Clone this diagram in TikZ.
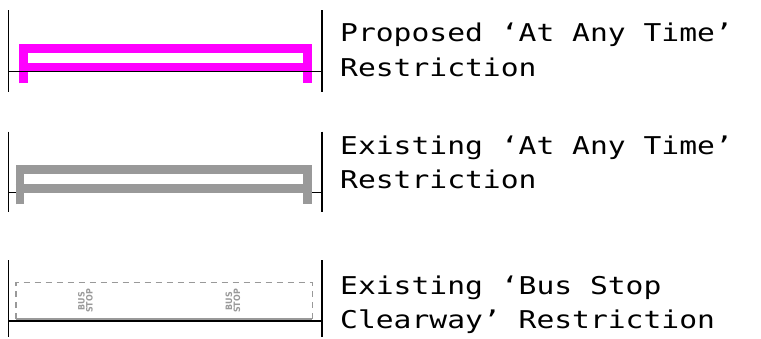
\documentclass[tikz,border=0pt]{standalone}
\usepackage{fontspec}
\setmainfont{DejaVu Sans Mono}[FakeStretch=1.21]
\newfontfamily\markfont{DejaVu Sans Condensed}
\definecolor{propmag}{RGB}{255,0,255}
\definecolor{exgray}{RGB}{153,153,153}
\begin{document}
\begin{tikzpicture}[x=1pt,y=-1pt,
  tick/.style={draw=black,line width=1.3pt},
  kerb/.style={draw=black,line width=1.3pt},
  yellowline/.style={line width=8.7pt,line join=miter,line cap=butt},
  legend/.style={anchor=base west,inner sep=0pt,font=\fontsize{24.5}{24.5}\selectfont},
  busmark/.style={rotate=90,inner sep=0pt,text=exgray,align=center,
    font=\markfont\bfseries\fontsize{8.8}{8}\selectfont}]
\useasboundingbox (0,0) rectangle (761,338);
% ---- Row 1: proposed
\draw[yellowline,draw=propmag] (23.4,83.3) -- (23.4,48.6) -- (307.6,48.6) -- (307.6,83.3);
\draw[yellowline,draw=propmag] (19,67.6) -- (312,67.6);
\draw[kerb] (8.3,71.7) -- (322,71.7);
\draw[tick] (8.3,10) -- (8.3,91.7);
\draw[tick] (322,10) -- (322,91.7);
\node[legend] (t1a) at (340,41.7) {Proposed ‘At Any Time’};
\node[legend] (t1b) at (340,76.7) {Restriction};
% ---- Row 2: existing
\draw[kerb] (8.3,192.3) -- (322,192.3);
\draw[yellowline,draw=exgray] (20,204.3) -- (20,169.5) -- (307.2,169.5) -- (307.2,204.3);
\draw[yellowline,draw=exgray] (15.7,188.5) -- (311.7,188.5);
\draw[tick] (8.3,131.7) -- (8.3,212);
\draw[tick] (322,131.7) -- (322,212);
\node[legend] (t2a) at (340,154.3) {Existing ‘At Any Time’};
\node[legend] (t2b) at (340,188.3) {Restriction};
% ---- Row 3: bus stop clearway
\draw[draw=exgray,line width=1.3pt,dash pattern=on 6pt off 5pt]
  (16,319) -- (16,282.7) -- (312.3,282.7) -- (312.3,319);
\draw[draw=exgray,line width=2pt] (16,319.3) -- (312.3,319.3);
\draw[kerb] (8.3,321) -- (322,321);
\draw[tick] (8.3,260) -- (8.3,337);
\draw[tick] (322,260) -- (322,337);
\node[busmark] (bs1) at (85.5,301) {BUS\\STOP};
\node[busmark] (bs2) at (233,301) {BUS\\STOP};
\node[legend] (t3a) at (340,294.3) {Existing ‘Bus Stop};
\node[legend] (t3b) at (340,328.3) {Clearway’ Restriction};
\end{tikzpicture}
\end{document}
